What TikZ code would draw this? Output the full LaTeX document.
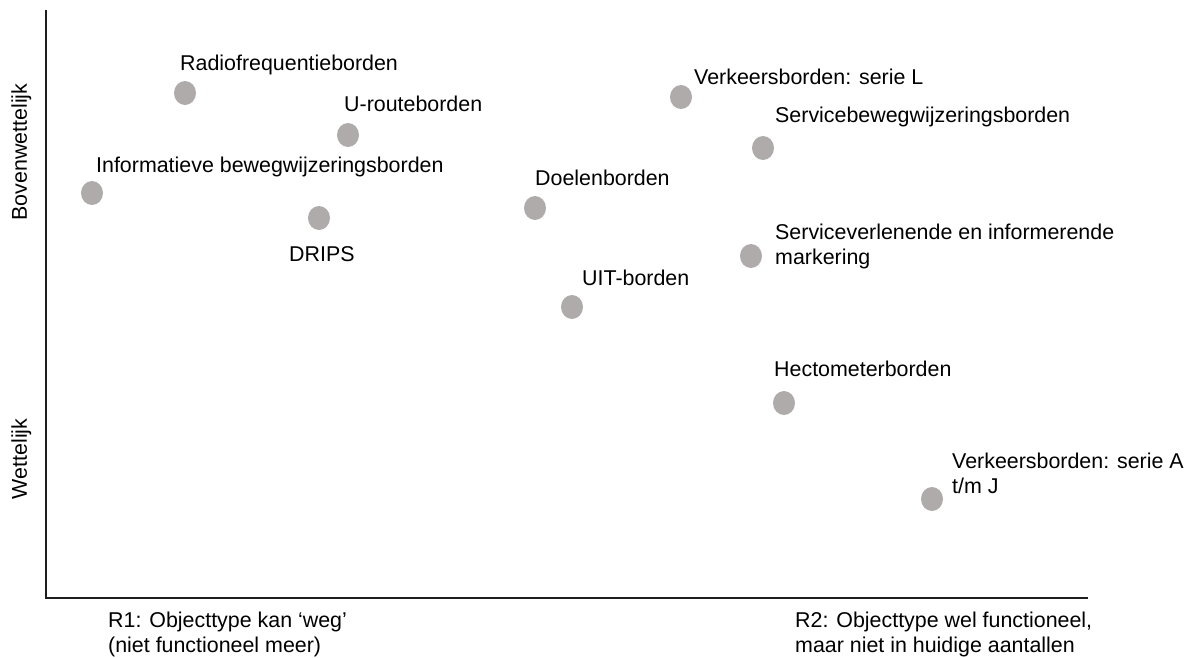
\documentclass[tikz,border=0pt]{standalone}
\usepackage{fontspec}
\setmainfont{Liberation Sans}
\usetikzlibrary{shapes.geometric}
\definecolor{dotgray}{RGB}{175,171,171}
\definecolor{axisink}{RGB}{30,30,30}
\begin{document}
\begin{tikzpicture}[x=1pt,y=-1pt,
  dot/.style={ellipse, fill=dotgray, draw=none, inner sep=0pt,
              minimum width=22pt, minimum height=24pt},
  lbl/.style={anchor=base west, inner sep=0pt, align=left,
              font=\fontsize{21.4}{24.5}\selectfont},
  axislbl/.style={anchor=base, inner sep=0pt, rotate=90,
              font=\fontsize{21.4}{24.5}\selectfont},
  axisline/.style={draw=axisink, line width=1.8pt}]
  \useasboundingbox (0,0) rectangle (1185,657);

  % axes
  \coordinate (top) at (46,10);
  \coordinate (origin) at (46,598);
  \coordinate (right) at (1088,598);
  \draw[axisline] (top) -- (origin) -- (right);

  % axis labels (multi-line nodes sit on the baseline of their last line)
  \node[axislbl] (yhigh) at (27,152) {Bovenwettelijk};
  \node[axislbl] (ylow) at (27,459) {Wettelijk};
  \node[lbl] (r1) at (108,652) {R1: Objecttype kan ‘weg’\\(niet functioneel meer)};
  \node[lbl] (r2) at (795,652) {R2: Objecttype wel functioneel,\\maar niet in huidige aantallen};

  % object types
  \node[dot] (radio) at (185,93) {};
  \node[lbl] (radiotxt) at (180,70) {Radiofrequentieborden};

  \node[dot] (uroute) at (348,135) {};
  \node[lbl] (uroutetxt) at (344,111) {U-routeborden};

  \node[dot] (info) at (92,193) {};
  \node[lbl] (infotxt) at (96,172) {Informatieve bewegwijzeringsborden};

  \node[dot] (drips) at (319,218) {};
  \node[lbl] (dripstxt) at (289,261) {DRIPS};

  \node[dot] (doelen) at (535,208) {};
  \node[lbl] (doelentxt) at (535,185) {Doelenborden};

  \node[dot] (serieL) at (681,97) {};
  \node[lbl] (serieLtxt) at (694,84) {Verkeersborden: serie L};

  \node[dot] (servbw) at (763,148) {};
  \node[lbl] (servbwtxt) at (775,122) {Servicebewegwijzeringsborden};

  \node[dot] (servinf) at (751,256) {};
  \node[lbl] (servinftxt) at (775,264) {Serviceverlenende en informerende\\markering};

  \node[dot] (uit) at (572,307) {};
  \node[lbl] (uittxt) at (582,285) {UIT-borden};

  \node[dot] (hecto) at (784,403) {};
  \node[lbl] (hectotxt) at (774,376) {Hectometerborden};

  \node[dot] (serieA) at (932,499) {};
  \node[lbl] (serieAtxt) at (952,493) {Verkeersborden: serie A\\t/m J};
\end{tikzpicture}
\end{document}
